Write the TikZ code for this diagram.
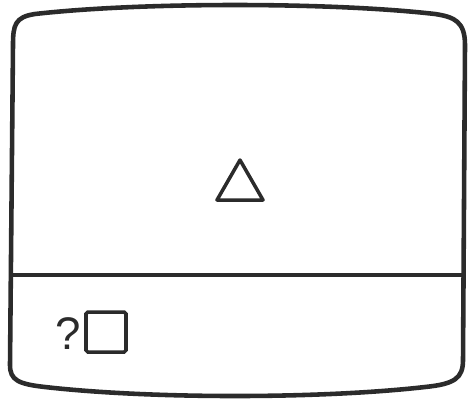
\documentclass[tikz,border=0pt]{standalone}
\usepackage{fontspec}
\setmainfont{Liberation Sans}
\usetikzlibrary{positioning}
\definecolor{ink}{HTML}{2B2B2B}
\tikzset{
  outline/.style={draw=ink,line width=2.6pt,line join=round},
  keybox/.style={draw=ink,line width=2pt,rounded corners=1pt,minimum size=0.8cm,inner sep=0pt}
}
\begin{document}
\begin{tikzpicture}[x=0.02cm,y=-0.02cm]
  \useasboundingbox (0,0) rectangle (469,400);
  % Screen frame
  \draw[outline] (35,14) .. controls (15,17) and (13,25) .. (13,45)
    -- (10,365) .. controls (10,380) and (18,384) .. (45,387)
    .. controls (150,399) and (320,399) .. (425,387)
    .. controls (455,384) and (463,378) .. (463,360)
    -- (465,45) .. controls (465,22) and (455,17) .. (435,14)
    .. controls (330,2) and (140,2) .. cycle;
  % Divider
  \draw[draw=ink,line width=2.3pt] (11,275) -- (464,275);
  % Triangle
  \draw[outline,line width=2pt] (240,160) -- (263,200) -- (217,200) -- cycle;
  % Prompt
  \node[keybox] (box) at (106,332) {};
  \node[text=ink,font=\fontsize{26}{30}\selectfont,left=-1.5pt of box,yshift=-1pt] (query) {?};
\end{tikzpicture}
\end{document}
